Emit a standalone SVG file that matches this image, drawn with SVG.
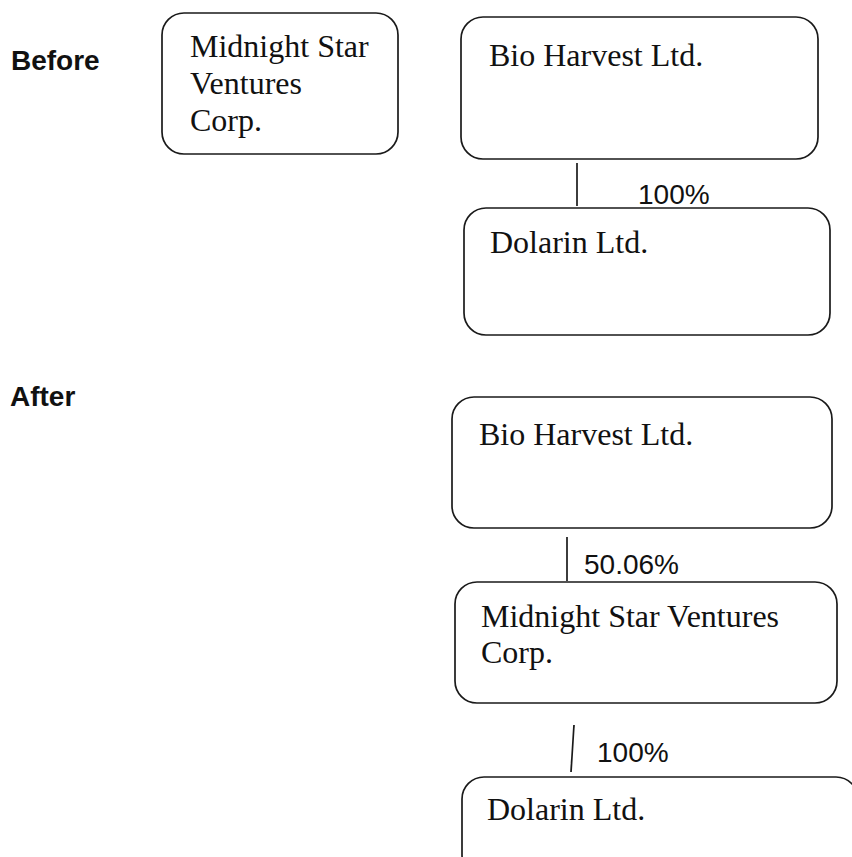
<svg xmlns="http://www.w3.org/2000/svg" width="852" height="857" viewBox="0 0 852 857">
<style>
.box{fill:#fff;stroke:#1a1a1a;stroke-width:1.7}
.name{font-family:"Liberation Serif","Times New Roman",serif;font-size:32px;fill:#111}
.pct{font-family:"Liberation Sans",Arial,sans-serif;font-size:28px;fill:#111}
.head{font-family:"Liberation Sans",Arial,sans-serif;font-size:28px;font-weight:bold;fill:#111}
.conn{stroke:#1a1a1a;stroke-width:1.7;fill:none}
</style>
<rect width="852" height="857" fill="#fff"/>
<text class="head" x="11" y="70">Before</text>
<text class="head" x="10" y="406">After</text>
<g id="connectors">
<line class="conn" x1="577" y1="163" x2="577" y2="206"/>
<line class="conn" x1="567" y1="537" x2="567" y2="581"/>
<line class="conn" x1="574" y1="725" x2="571" y2="772"/>
</g>
<g id="before-midnight">
<rect class="box" x="162" y="13" width="236" height="141" rx="22"/>
<text class="name" x="190" y="57">Midnight Star</text>
<text class="name" x="190" y="94">Ventures</text>
<text class="name" x="190" y="131">Corp.</text>
</g>
<g id="before-bio">
<rect class="box" x="461" y="17" width="357" height="142" rx="22"/>
<text class="name" x="489" y="66">Bio Harvest Ltd.</text>
</g>
<g id="before-pct">
<text class="pct" x="638" y="204">100%</text>
</g>
<g id="before-dolarin">
<rect class="box" x="464" y="208" width="366" height="127" rx="22"/>
<text class="name" x="490" y="253">Dolarin Ltd.</text>
</g>
<g id="after-bio">
<rect class="box" x="452" y="397" width="380" height="131" rx="22"/>
<text class="name" x="479" y="445">Bio Harvest Ltd.</text>
</g>
<g id="after-pct1">
<text class="pct" x="584" y="574">50.06%</text>
</g>
<g id="after-midnight">
<rect class="box" x="455" y="582" width="382" height="121" rx="22"/>
<text class="name" x="481" y="627">Midnight Star Ventures</text>
<text class="name" x="481" y="663">Corp.</text>
</g>
<g id="after-pct2">
<text class="pct" x="597" y="762">100%</text>
</g>
<g id="after-dolarin">
<rect class="box" x="462" y="777" width="396" height="100" rx="22"/>
<text class="name" x="487" y="820">Dolarin Ltd.</text>
</g>
</svg>
